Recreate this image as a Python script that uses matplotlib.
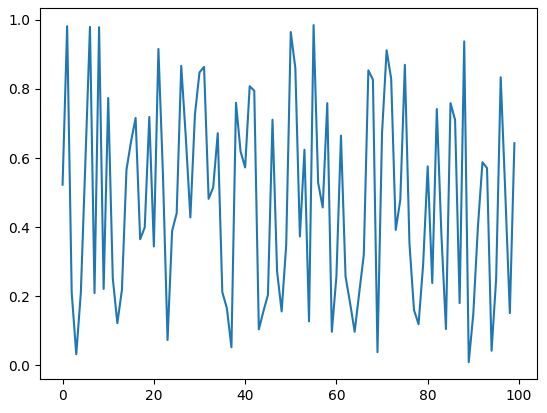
import matplotlib
matplotlib.use("Agg")
import matplotlib.pyplot as plt
import numpy as np

# values, index 0..99
values = [
    0.523, 0.982, 0.21, 0.032, 0.21, 0.59, 0.98, 0.209, 0.979, 0.221,
    0.774, 0.252, 0.122, 0.218, 0.566, 0.648, 0.716, 0.365, 0.399, 0.719,
    0.344, 0.916, 0.55, 0.073, 0.389, 0.44, 0.867, 0.66, 0.428, 0.726,
    0.848, 0.864, 0.482, 0.515, 0.672, 0.212, 0.165, 0.052, 0.76, 0.619,
    0.573, 0.808, 0.795, 0.104, 0.156, 0.204, 0.711, 0.272, 0.156, 0.349,
    0.965, 0.861, 0.373, 0.624, 0.127, 0.985, 0.528, 0.457, 0.759, 0.097,
    0.257, 0.665, 0.257, 0.18, 0.097, 0.21, 0.32, 0.854, 0.827, 0.038,
    0.673, 0.912, 0.83, 0.392, 0.479, 0.87, 0.354, 0.16, 0.119, 0.291,
    0.576, 0.238, 0.742, 0.38, 0.105, 0.759, 0.711, 0.18, 0.938, 0.009,
    0.15, 0.40, 0.588, 0.571, 0.042, 0.25, 0.834, 0.5, 0.151, 0.643,
]

fig = plt.figure(figsize=(5.47, 4.13), dpi=100)
ax = fig.add_axes([0.0731, 0.0823, 0.9086, 0.8977])
ax.plot(np.arange(len(values)), values)

fig.savefig("out.png", dpi=100)
